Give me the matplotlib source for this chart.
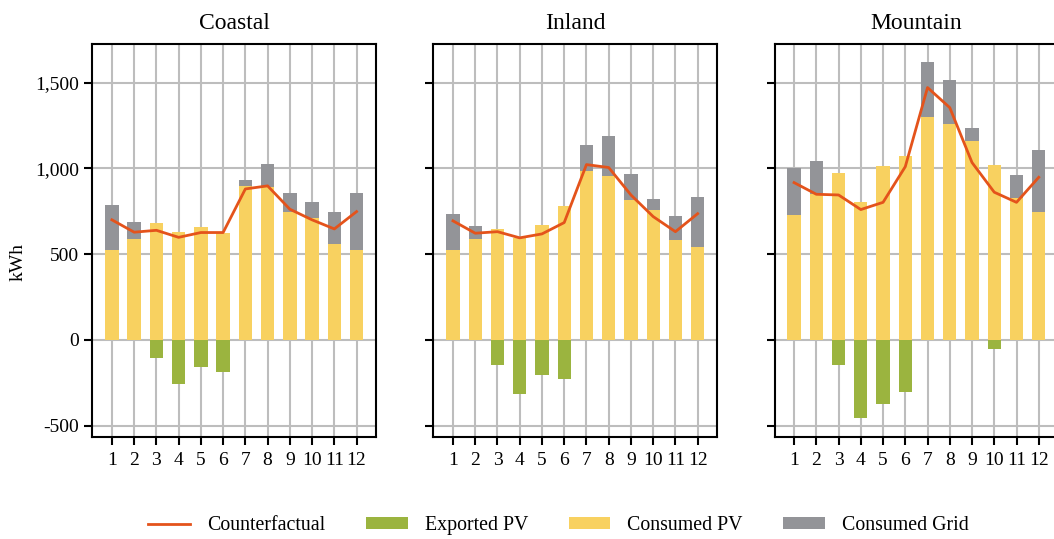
import matplotlib
matplotlib.use('Agg')
import matplotlib.pyplot as plt
import numpy as np
from matplotlib.ticker import FuncFormatter

# DATA (kWh per month)
months = list(range(1, 13))
regions = ['Coastal', 'Inland', 'Mountain']

consumed_pv = {
    'Coastal':  [525, 587, 680, 628, 659, 622, 900, 894, 748, 713, 560, 525],
    'Inland':   [525, 587, 649, 593, 670, 783, 987, 958, 818, 758, 585, 542],
    'Mountain': [727, 851, 975, 802, 1014, 1073, 1298, 1257, 1162, 1022, 826, 748],
}
consumed_grid = {
    'Coastal':  [262, 103, 0, 0, 0, 0, 31, 132, 111, 89, 186, 334],
    'Inland':   [209, 76, 0, 0, 0, 0, 148, 231, 148, 64, 140, 290],
    'Mountain': [278, 190, 0, 0, 0, 0, 321, 257, 74, 0, 136, 360],
}
exported_pv = {
    'Coastal':  [0, 0, -103, -258, -155, -185, 0, 0, 0, 0, 0, 0],
    'Inland':   [0, 0, -148, -317, -204, -229, 0, 0, 0, 0, 0, 0],
    'Mountain': [0, 0, -148, -457, -373, -301, 0, 0, 0, -51, 0, 0],
}
counterfactual = {
    'Coastal':  [700, 628, 639, 598, 626, 626, 880, 898, 762, 700, 647, 748],
    'Inland':   [694, 622, 631, 595, 618, 684, 1022, 1005, 845, 719, 631, 736],
    'Mountain': [917, 849, 845, 760, 802, 1010, 1471, 1354, 1034, 861, 802, 948],
}

# colours
c_green = '#9bb43f'
c_yellow = '#f8d160'
c_grey = '#939498'
c_orange = '#e4531b'

plt.rcParams['font.family'] = ['Liberation Serif', 'DejaVu Serif']
plt.rcParams['axes.unicode_minus'] = False

fig, axes = plt.subplots(1, 3, figsize=(10.54, 5.39), dpi=100, sharey=True)
fig.subplots_adjust(left=0.0876, right=1.0041, top=0.9184, bottom=0.1898, wspace=0.2018)

for ax, reg in zip(axes, regions):
    x = np.array(months)
    pv = np.array(consumed_pv[reg])
    ax.plot(x, counterfactual[reg], color=c_orange, lw=2, label='Counterfactual', zorder=3)
    ax.bar(x, exported_pv[reg], width=0.6, color=c_green, label='Exported PV', zorder=2)
    ax.bar(x, pv, width=0.6, color=c_yellow, label='Consumed PV', zorder=2)
    ax.bar(x, consumed_grid[reg], bottom=pv, width=0.6, color=c_grey, label='Consumed Grid', zorder=2)

    ax.set_title(reg, fontsize=17, pad=11)
    ax.set_xticks(months)
    ax.set_yticks([-500, 0, 500, 1000, 1500])
    ax.grid(True, color='#bdbdbd', lw=1.5)
    ax.set_axisbelow(True)
    for s in ax.spines.values():
        s.set_linewidth(1.5)
        s.set_color('black')
    ax.tick_params(axis='both', length=6, width=1.5, labelsize=14, color='black')
    ax.tick_params(axis='x', pad=5)

axes[0].set_ylim(-564, 1725)
axes[0].yaxis.set_major_formatter(FuncFormatter(lambda v, p: f'{int(v):,}'))
axes[0].set_ylabel('kWh', fontsize=14)
axes[0].yaxis.set_label_coords(-0.233, 0.445)

h, l = axes[0].get_legend_handles_labels()
fig.legend(h, l, loc='lower center',
           bbox_to_anchor=(0.530, -0.026), ncol=4, frameon=False, fontsize=14.3,
           handlelength=2.1, handleheight=0.55, columnspacing=2.05, handletextpad=0.85)

fig.savefig('out.png', dpi=100)
